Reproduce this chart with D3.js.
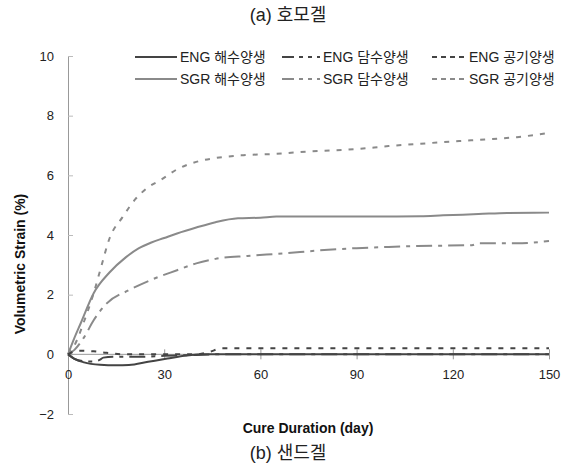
<!DOCTYPE html>
<html>
<head>
<meta charset="utf-8">
<script src="https://cdn.jsdelivr.net/npm/d3@7"></script>
<style>
  body { margin: 0; background: #fff; }
  svg { font-family: "Liberation Sans", Arial, "Noto Sans CJK KR", sans-serif; }
  .tick text { fill: #222; font-size: 13px; }
</style>
</head>
<body>
<div id="chart"></div>
<script>
// values: [day, volumetric strain %]
const engSea = [[0, 0], [2, -0.15], [5, -0.27], [10, -0.35], [15, -0.37], [19, -0.36], [25, -0.25],
  [31, -0.14], [37, -0.04], [42, 0], [60, 0], [90, 0], [120, 0], [150, 0]];
const engFresh = [[0, 0], [2, -0.15], [5, -0.23], [8, -0.24], [10, -0.18], [11, -0.11], [14, -0.08],
  [23, -0.08], [30, -0.05], [40, -0.02], [46, 0], [90, 0], [150, 0]];
const engAir = [[0, 0], [3, 0.12], [8, 0.1], [12, 0.05], [18, 0], [40, 0], [44, 0.08], [48, 0.2],
  [90, 0.2], [120, 0.2], [150, 0.2]];
const sgrSea = [[0, 0], [2, 0.55], [4, 1.05], [8, 2.05], [13, 2.75], [18, 3.25], [22, 3.55], [26, 3.75],
  [30, 3.9], [34, 4.05], [40, 4.25], [46, 4.43], [53, 4.56], [60, 4.58], [65, 4.62], [100, 4.62],
  [110, 4.63], [117, 4.66], [128, 4.7], [137, 4.74], [150, 4.75]];
const sgrFresh = [[0, 0], [2, 0.15], [5, 0.57], [8, 1.14], [12, 1.7], [19, 2.15], [26, 2.5], [34, 2.82],
  [40, 3.05], [46, 3.2], [56, 3.3], [67, 3.38], [78, 3.48], [90, 3.56], [100, 3.6], [109, 3.63],
  [126, 3.66], [128, 3.72], [140, 3.72], [150, 3.8]];
const sgrAir = [[0, 0], [2, 0.3], [5, 1.1], [8, 2.05], [10, 2.8], [13, 3.9], [17, 4.6], [21, 5.2],
  [25, 5.6], [29, 5.85], [34, 6.2], [40, 6.45], [46, 6.58], [54, 6.67], [65, 6.72], [75, 6.8],
  [90, 6.88], [100, 6.98], [110, 7.06], [122, 7.15], [130, 7.2], [140, 7.28], [150, 7.42]];

const seriesNames = ["ENG 해수양생", "ENG 담수양생", "ENG 공기양생", "SGR 해수양생", "SGR 담수양생", "SGR 공기양생"];
const seriesValues = [engSea, engFresh, engAir, sgrSea, sgrFresh, sgrAir];
const xTicks = [0, 30, 60, 90, 120, 150];
const yTicks = [-2, 0, 2, 4, 6, 8, 10];

const width = 572;
const height = 468;
const margin = { top: 56, right: 23, bottom: 54, left: 68 };

const dashes = ["none", "16,6,4,6", "5,7"];
const colors = ["#444", "#444", "#444", "#8a8a8a", "#8a8a8a", "#8a8a8a"];

const svg = d3.select("#chart")
  .append("svg")
  .attr("width", width)
  .attr("height", height);

const xScale = d3.scaleLinear().domain([0, 150]).range([margin.left, width - margin.right]);
const yScale = d3.scaleLinear().domain([-2, 10]).range([height - margin.bottom, margin.top]);

// y axis: line on the left, short ticks pointing inside
const yAxis = svg.append("g")
  .attr("transform", `translate(${margin.left}, 0)`)
  .call(d3.axisLeft(yScale).tickValues(yTicks).tickSize(0).tickPadding(14)
    .tickFormat(d => d < 0 ? "\u2212" + Math.abs(d) : d));
yAxis.select(".domain").attr("stroke", "#999");
yAxis.selectAll(".tick").append("line").attr("x2", 5).attr("stroke", "#bbb");

// x axis drawn on the zero line, ticks crossing it
const xAxis = svg.append("g")
  .attr("transform", `translate(0, ${yScale(0)})`)
  .call(d3.axisBottom(xScale).tickValues(xTicks).tickSize(5).tickPadding(10));
xAxis.select(".domain").attr("stroke", "#999").attr("d", `M${margin.left},0H${width - margin.right}`);
xAxis.selectAll(".tick line").attr("y1", -5).attr("stroke", "#999");

// lines
const line = d3.line()
  .x(d => xScale(d[0]))
  .y(d => yScale(d[1]))
  .curve(d3.curveMonotoneX);

const series = seriesNames.map((name, i) => ({ name, values: seriesValues[i], i }));

svg.append("g")
  .selectAll("path")
  .data(series.slice().reverse())
  .join("path")
  .attr("d", d => line(d.values))
  .attr("fill", "none")
  .attr("stroke", d => colors[d.i])
  .attr("stroke-width", 2)
  .attr("stroke-dasharray", d => dashes[d.i % 3]);

// legend, 3 columns x 2 rows
const legX = [135, 282, 432];
const legLen = [42, 38, 34];
const legY = [57, 79];
const leg = svg.append("g")
  .selectAll("g")
  .data(series)
  .join("g")
  .attr("transform", d => `translate(${legX[d.i % 3]}, ${legY[Math.floor(d.i / 3)]})`);
leg.append("line")
  .attr("x2", d => legLen[d.i % 3])
  .attr("stroke", d => colors[d.i])
  .attr("stroke-width", 2)
  .attr("stroke-dasharray", d => d.i % 3 === 1 ? "12,5,4,5,4,5" : (d.i % 3 === 2 ? "5,4" : "none"));
leg.append("text")
  .attr("x", d => legLen[d.i % 3] + 3)
  .attr("dy", "0.35em")
  .attr("font-size", 14)
  .attr("fill", "#222")
  .text(d => d.name);

// titles
svg.append("text")
  .attr("x", 288).attr("y", 21)
  .attr("text-anchor", "middle")
  .attr("font-size", 18).attr("fill", "#222")
  .text("(a) 호모겔");
svg.append("text")
  .attr("x", 288).attr("y", 459)
  .attr("text-anchor", "middle")
  .attr("font-size", 18).attr("fill", "#222")
  .text("(b) 샌드겔");
svg.append("text")
  .attr("x", 308).attr("y", 433)
  .attr("text-anchor", "middle")
  .attr("font-size", 14).attr("font-weight", "bold").attr("fill", "#111")
  .text("Cure Duration (day)");
svg.append("text")
  .attr("transform", "translate(25, 264) rotate(-90)")
  .attr("text-anchor", "middle")
  .attr("font-size", 14).attr("font-weight", "bold").attr("fill", "#111")
  .text("Volumetric Strain (%)");
</script>
</body>
</html>
